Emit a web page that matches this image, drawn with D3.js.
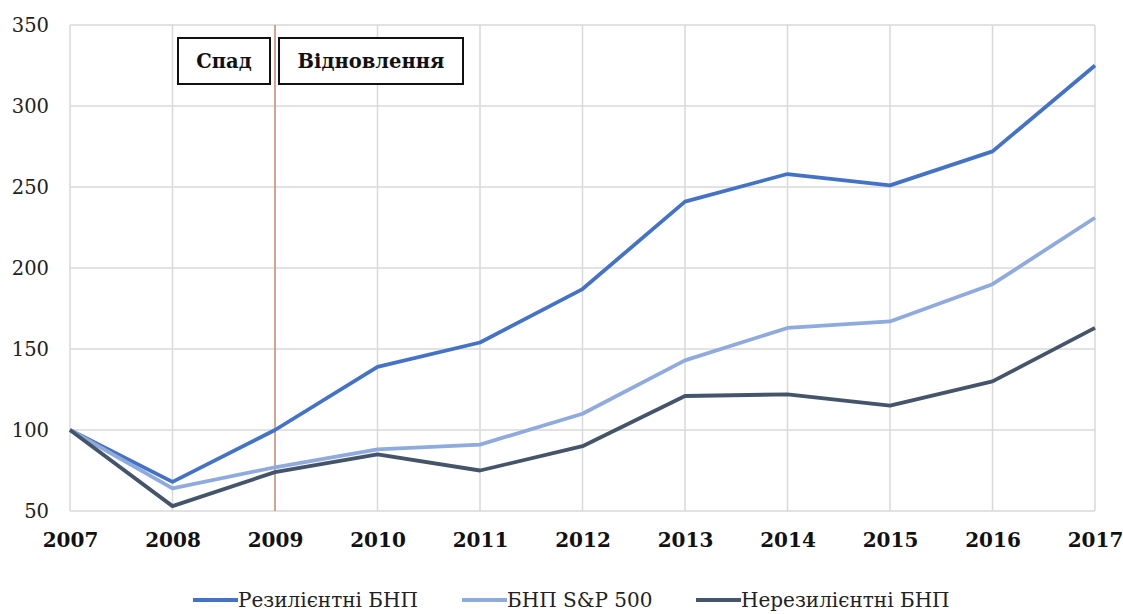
<!DOCTYPE html>
<html>
<head>
<meta charset="utf-8">
<script src="https://cdn.jsdelivr.net/npm/d3@7"></script>
<style>
  html, body { margin: 0; padding: 0; background: #fff; }
  svg { display: block; }
</style>
</head>
<body>
<svg id="chart" width="1123" height="614"></svg>
<script>
// Years on the horizontal axis
const years = [2007, 2008, 2009, 2010, 2011, 2012, 2013, 2014, 2015, 2016, 2017];

// Index values (2007 = 100)
const resilient = [100, 68, 100, 139, 154, 187, 241, 258, 251, 272, 325];
const sp500 = [100, 64, 77, 88, 91, 110, 143, 163, 167, 190, 231];
const nonResilient = [100, 53, 74, 85, 75, 90, 121, 122, 115, 130, 163];

const seriesNames = ["Резилієнтні БНП", "БНП S&P 500", "Нерезилієнтні БНП"];
const seriesColors = ["#4472C4", "#8FAADC", "#44546A"];
const yTicks = [50, 100, 150, 200, 250, 300, 350];
const phaseLabels = ["Спад", "Відновлення"];
const splitYear = 2009;

const series = [resilient, sp500, nonResilient].map((vals, i) => ({
  name: seriesNames[i],
  color: seriesColors[i],
  values: vals.map((v, j) => ({ year: years[j], value: v }))
}));

const svg = d3.select("#chart");
const margin = { left: 70, right: 28, top: 25, bottom: 103 };
const W = 1123, H = 614;

const x = d3.scaleLinear()
  .domain([years[0], years[years.length - 1]])
  .range([margin.left, W - margin.right]);
const y = d3.scaleLinear()
  .domain([50, 350])
  .range([H - margin.bottom, margin.top]);

const serif = "'DejaVu Serif', 'Liberation Serif', serif";

// Grid lines
const grid = svg.append("g");
grid.selectAll("line.h").data(yTicks).join("line")
  .attr("x1", x.range()[0]).attr("x2", x.range()[1])
  .attr("y1", d => y(d)).attr("y2", d => y(d))
  .attr("stroke", "#d9d9d9").attr("stroke-width", 1.5);
grid.selectAll("line.v").data(years).join("line")
  .attr("x1", d => x(d)).attr("x2", d => x(d))
  .attr("y1", y.range()[0]).attr("y2", y.range()[1])
  .attr("stroke", "#d9d9d9").attr("stroke-width", 1.5);

// Y axis labels
const yAxis = d3.axisLeft(y).tickValues(yTicks).tickSize(0).tickPadding(21);
svg.append("g")
  .attr("transform", `translate(${margin.left},0)`)
  .call(yAxis)
  .call(g => g.select(".domain").remove())
  .call(g => g.selectAll("text")
    .style("font-family", serif).style("font-size", "19.5px").attr("fill", "#222"));

// X axis labels
const xAxis = d3.axisBottom(x).tickValues(years).tickFormat(d3.format("d")).tickSize(0).tickPadding(22);
svg.append("g")
  .attr("transform", `translate(0,${y.range()[0]})`)
  .call(xAxis)
  .call(g => g.select(".domain").remove())
  .call(g => g.selectAll("text")
    .style("font-family", serif).style("font-size", "20px").style("font-weight", "bold").attr("fill", "#111"));

// Phase divider
svg.append("line")
  .attr("x1", x(splitYear)).attr("x2", x(splitYear))
  .attr("y1", y.range()[0]).attr("y2", y.range()[1])
  .attr("stroke", "#C8865A").attr("stroke-width", 1.3);

// Series lines
const line = d3.line().x(d => x(d.year)).y(d => y(d.value));
svg.append("g").selectAll("path").data(series).join("path")
  .attr("d", d => line(d.values))
  .attr("fill", "none")
  .attr("stroke", d => d.color)
  .attr("stroke-width", 3.8)
  .attr("stroke-linejoin", "round");

// Phase boxes
const boxY = 38, boxH = 46;
const boxes = [
  { label: phaseLabels[0], x0: x(splitYear) - 97, x1: x(splitYear) - 5 },
  { label: phaseLabels[1], x0: x(splitYear) + 4, x1: x(splitYear) + 188 }
];
const bg = svg.append("g").selectAll("g").data(boxes).join("g");
bg.append("rect")
  .attr("x", d => d.x0).attr("y", boxY)
  .attr("width", d => d.x1 - d.x0).attr("height", boxH)
  .attr("fill", "#fff").attr("stroke", "#111").attr("stroke-width", 2);
bg.append("text")
  .attr("x", d => (d.x0 + d.x1) / 2).attr("y", boxY + boxH / 2 + 7)
  .attr("text-anchor", "middle")
  .style("font-family", serif).style("font-size", "19.5px").style("font-weight", "bold").attr("fill", "#111")
  .text(d => d.label);

// Legend
const legendY = 600;
const legendX = [193, 462, 696];
const lg = svg.append("g").selectAll("g").data(series).join("g")
  .attr("transform", (d, i) => `translate(${legendX[i]},${legendY})`);
lg.append("line")
  .attr("x1", 0).attr("x2", 45).attr("y1", 0).attr("y2", 0)
  .attr("stroke", d => d.color).attr("stroke-width", 4);
lg.append("text")
  .attr("x", 45).attr("y", 7)
  .style("font-family", serif).style("font-size", "20px").attr("fill", "#222")
  .text(d => d.name);
</script>
</body>
</html>
